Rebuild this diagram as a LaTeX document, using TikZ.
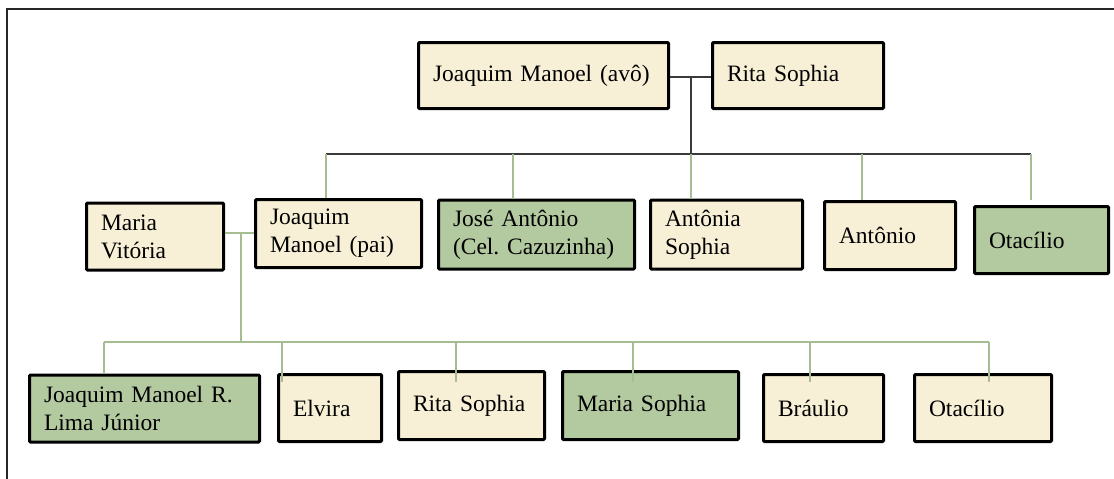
\documentclass[tikz,border=0pt]{standalone}
\usepackage{fontspec}
\setmainfont{Liberation Serif}
\frenchspacing
\definecolor{cream}{HTML}{F8F0D6}
\definecolor{sage}{HTML}{B3C9A0}
\definecolor{twig}{HTML}{A6BD92}
\definecolor{ink}{HTML}{3A3A3A}
\begin{document}
\begin{tikzpicture}[x=1pt,y=-1pt,
  card/.style n args={3}{draw=black, line width=3pt, rounded corners=1pt,
    minimum width=#1, minimum height=#2, text width=#3,
    align=left, inner xsep=14.5pt, inner ysep=0pt,
    font=\fontsize{23.5}{28}\selectfont},
  plain/.style={card={#1}, fill=cream},
  marked/.style={card={#1}, fill=sage},
  couple/.style={draw=ink, line width=1.2pt},
  drop/.style={draw=twig, line width=1.2pt},
  frame/.style={draw=black!85, line width=1.3pt}]

\useasboundingbox (0,0) rectangle (1114,479);
\draw[frame] (7,479) -- (7,9) -- (1114,9);

% grandparents
\node[plain={250pt}{66pt}{221pt}] (avo) at (543.5,75.5) {Joaquim Manoel (avô)};
\node[plain={171pt}{66pt}{142pt}] (rita) at (798,75.5) {Rita Sophia};

% second generation
\node[plain={137pt}{67pt}{108pt}] (mv) at (155,236.5) {Maria\\Vitória};
\node[plain={166pt}{68pt}{137pt}] (jp) at (338.5,233.5) {Joaquim\\Manoel (pai)};
\node[marked={196pt}{69pt}{167pt}] (ja) at (536.5,234.5) {José Antônio\\(Cel. Cazuzinha)};
\node[plain={152pt}{69pt}{123pt}] (as) at (726.5,234.5) {Antônia\\Sophia};
\node[plain={131pt}{68pt}{102pt}] (an) at (890,235.5) {Antônio};
\node[marked={134pt}{67pt}{105pt}] (ot1) at (1041.5,240) {Otacílio};

% third generation
\node[marked={230pt}{67pt}{201pt}] (jr) at (144.5,408.5) {Joaquim Manoel R.\\Lima Júnior};
\node[plain={103pt}{67pt}{74pt}] (el) at (330,408) {Elvira};
\node[plain={146pt}{68pt}{117pt}] (rs) at (471.5,405.5) {Rita Sophia};
\node[marked={176pt}{68pt}{147pt}] (ms) at (650.5,405.5) {Maria Sophia};
\node[plain={120pt}{67pt}{91pt}] (br) at (823.5,408) {Bráulio};
\node[plain={137pt}{67pt}{108pt}] (ot2) at (983,408) {Otacílio};

% first family: marriage, stem and sibling bar
\coordinate (j1) at (691,77);
\coordinate (d1) at (326,154);
\coordinate (d2) at (513,154);
\coordinate (d3) at (691,154);
\coordinate (d4) at (862,154);
\coordinate (d5) at (1031,154);
\draw[couple] (avo.east |- j1) -- (rita.west |- j1);
\draw[couple] (j1) -- (d3);
\draw[couple] (d1) -- (d5);
\draw[drop] (d1) -- (d1 |- jp.north);
\draw[drop] (d2) -- (d2 |- ja.north);
\draw[drop] (d3) -- (d3 |- as.north);
\draw[drop] (d4) -- (d4 |- an.north);
\draw[drop] (d5) -- (d5 |- an.north);

% second family
\coordinate (j2) at (241,233);
\coordinate (e1) at (104,342);
\coordinate (e2) at (282,342);
\coordinate (e3) at (456,342);
\coordinate (e4) at (633,342);
\coordinate (e5) at (810,342);
\coordinate (e6) at (989,342);
\draw[drop] (mv.east |- j2) -- (jp.west |- j2);
\draw[drop] (j2) -- (j2 |- e1);
\draw[drop] (e1) -- (e6);
\draw[drop] (e1) -- (e1 |- jr.north);
\draw[drop, shorten >=-9pt] (e2) -- (e2 |- el.north);
\draw[drop, shorten >=-12pt] (e3) -- (e3 |- rs.north);
\draw[drop, shorten >=-12pt] (e4) -- (e4 |- ms.north);
\draw[drop, shorten >=-9pt] (e5) -- (e5 |- br.north);
\draw[drop, shorten >=-9pt] (e6) -- (e6 |- ot2.north);
\end{tikzpicture}
\end{document}
